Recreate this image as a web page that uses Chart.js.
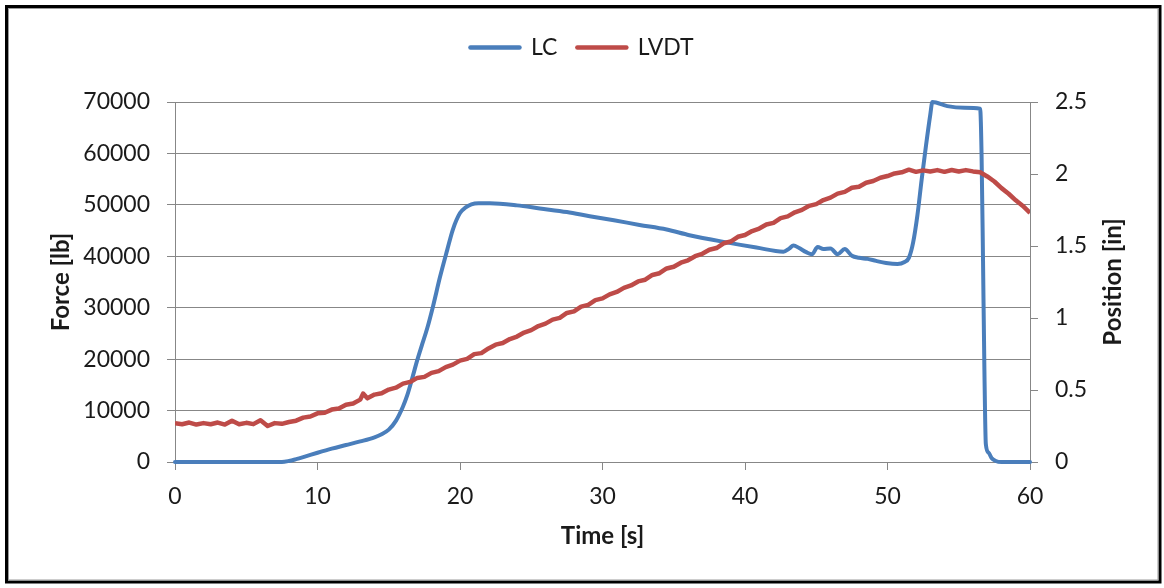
<!DOCTYPE html>
<html><head><meta charset="utf-8">
<script src="https://cdn.jsdelivr.net/npm/chart.js@4/dist/chart.umd.min.js"></script>
<style>html,body{margin:0;padding:0;background:#fff;}canvas{display:block;}</style>
</head><body>
<canvas id="c" width="1164" height="588"></canvas>
<script>
const seriesNames = ['LC', 'LVDT'];
const xTitle = 'Time [s]';
const yTitle = 'Force [lb]';
const y2Title = 'Position [in]';

const lcTime = [0, 7.5, 8, 8.5, 9, 10, 11, 12, 13, 14, 14.5, 15, 15.5, 16, 16.3, 16.6, 17, 17.3, 17.7, 18.1, 18.6, 19.1, 19.5, 20, 20.4, 20.8, 21.3, 22.1, 24, 25.6, 27.5, 29.1, 30.8, 32.6, 34.5, 36.1, 38.5, 40.8, 42.7, 43.1, 43.4, 43.8, 44.3, 44.7, 45.1, 45.5, 46, 46.5, 47, 47.5, 48, 48.6, 49.2, 49.9, 50.7, 51.2, 51.5, 51.8, 52.1, 52.4, 52.7, 53, 53.15, 54.2, 55.4, 56.5, 56.6, 56.7, 56.8, 56.9, 57.1, 57.3, 57.6, 58, 60];
const lcForce = [0, 0, 200, 550, 950, 1800, 2600, 3300, 4000, 4800, 5400, 6300, 8000, 10800, 13000, 15800, 19800, 22500, 26000, 30200, 36000, 41200, 45200, 48400, 49500, 50100, 50300, 50300, 49900, 49300, 48600, 47800, 47000, 46100, 45200, 44100, 42800, 41700, 40900, 41500, 42100, 41600, 40800, 40400, 41800, 41400, 41500, 40400, 41400, 40100, 39700, 39500, 39100, 38700, 38500, 38900, 39700, 42700, 48000, 55000, 61500, 67500, 70000, 69200, 68900, 68700, 60000, 40000, 18000, 3500, 1800, 800, 200, 0, 0];

const lvdtTime = [0, 0.5, 1, 1.5, 2, 2.5, 3, 3.5, 4, 4.5, 5, 5.5, 6, 6.5, 7, 7.5, 8, 8.5, 9, 9.5, 10, 10.5, 11, 11.5, 12, 12.5, 13, 13.2, 13.5, 14, 14.5, 15, 15.5, 16, 16.5, 17, 17.5, 18, 18.5, 19, 19.5, 20, 20.5, 21, 21.5, 22, 22.5, 23, 23.5, 24, 24.5, 25, 25.5, 26, 26.5, 27, 27.5, 28, 28.5, 29, 29.5, 30, 30.5, 31, 31.5, 32, 32.5, 33, 33.5, 34, 34.5, 35, 35.5, 36, 36.5, 37, 37.5, 38, 38.5, 39, 39.5, 40, 40.5, 41, 41.5, 42, 42.5, 43, 43.5, 44, 44.5, 45, 45.5, 46, 46.5, 47, 47.5, 48, 48.5, 49, 49.5, 50, 50.5, 51, 51.5, 52, 52.5, 53, 53.5, 54, 54.5, 55, 55.5, 56, 56.5, 57, 57.5, 58, 58.5, 59, 59.5, 60];
const lvdtPos = [0.27, 0.262, 0.274, 0.26, 0.27, 0.262, 0.274, 0.26, 0.287, 0.262, 0.272, 0.263, 0.29, 0.25, 0.27, 0.265, 0.278, 0.287, 0.308, 0.316, 0.338, 0.342, 0.364, 0.372, 0.398, 0.406, 0.433, 0.475, 0.442, 0.468, 0.477, 0.503, 0.516, 0.544, 0.556, 0.584, 0.591, 0.619, 0.631, 0.659, 0.676, 0.704, 0.716, 0.749, 0.756, 0.789, 0.815, 0.826, 0.854, 0.871, 0.899, 0.916, 0.944, 0.961, 0.989, 1.001, 1.035, 1.046, 1.079, 1.091, 1.124, 1.136, 1.164, 1.181, 1.209, 1.226, 1.254, 1.266, 1.299, 1.311, 1.344, 1.356, 1.384, 1.401, 1.429, 1.446, 1.474, 1.486, 1.519, 1.531, 1.564, 1.576, 1.604, 1.621, 1.649, 1.661, 1.694, 1.706, 1.734, 1.751, 1.779, 1.791, 1.819, 1.836, 1.864, 1.876, 1.904, 1.911, 1.939, 1.951, 1.974, 1.986, 2.004, 2.012, 2.03, 2.015, 2.025, 2.017, 2.027, 2.015, 2.028, 2.017, 2.027, 2.018, 2.012, 1.983, 1.948, 1.902, 1.863, 1.817, 1.778, 1.73];

const COLORS = ['#4a7ebb', '#be4b48'];
const GRID = '#878787';
const TXT = '#1a1a1a';

Chart.defaults.font.family = 'Lato';
Chart.defaults.color = TXT;

const framePlugin = {
  id: 'frame',
  beforeLayout(chart) {
    const lg = chart.legend;
    if (lg && !lg._fixedH) {
      const orig = lg.fit.bind(lg);
      lg.fit = function () { orig(); this.height = 86; };
      lg._fixedH = true;
    }
  },
  afterDraw(chart) {
    const ctx = chart.ctx;
    ctx.save();
    ctx.font = 'bold 24px Lato';
    ctx.fillStyle = TXT;
    ctx.textAlign = 'center';
    ctx.textBaseline = 'middle';
    ctx.translate(1113, (chart.chartArea.top + chart.chartArea.bottom) / 2);
    ctx.rotate(-Math.PI / 2);
    ctx.fillText(y2Title, 0, 0);
    ctx.restore();
    ctx.save();
    ctx.strokeStyle = '#000';
    ctx.lineWidth = 3;
    ctx.strokeRect(6.5, 6.5, 1153.5, 575.5);
    ctx.strokeStyle = '#9a9a9a';
    ctx.lineWidth = 1;
    ctx.strokeRect(8.5, 8.5, 1149.5, 571.5);
    ctx.restore();
  }
};

new Chart(document.getElementById('c'), {
  type: 'line',
  data: {
    datasets: [
      {
        label: seriesNames[0],
        data: lcTime.map((t, i) => ({x: t, y: lcForce[i]})),
        yAxisID: 'y',
        borderColor: COLORS[0],
        backgroundColor: COLORS[0],
        borderWidth: 4,
        pointRadius: 0,
        cubicInterpolationMode: 'monotone',
        borderCapStyle: 'round',
        borderJoinStyle: 'round',
        clip: false,
        order: 1
      },
      {
        label: seriesNames[1],
        data: lvdtTime.map((t, i) => ({x: t, y: lvdtPos[i]})),
        yAxisID: 'y1',
        borderColor: COLORS[1],
        backgroundColor: COLORS[1],
        borderWidth: 4.5,
        pointRadius: 0,
        tension: 0,
        borderJoinStyle: 'round',
        order: 0
      }
    ]
  },
  options: {
    responsive: false,
    devicePixelRatio: 1,
    animation: false,
    events: [],
    layout: {padding: {top: 16, left: 0, right: 0, bottom: 0}},
    plugins: {
      tooltip: {enabled: false},
      legend: {
        position: 'top',
        labels: {
          font: {family: 'Lato', size: 23},
          color: TXT,
          usePointStyle: true,
          pointStyleWidth: 49,
          boxHeight: 4,
          padding: 20,
          generateLabels: chart => chart.data.datasets.map((ds, i) => ({
            text: ds.label, fillStyle: ds.borderColor, strokeStyle: ds.borderColor,
            lineWidth: 4.5, lineCap: 'round', pointStyle: 'line', hidden: false,
            datasetIndex: i, fontColor: TXT
          }))
        }
      }
    },
    scales: {
      x: {
        type: 'linear', min: 0, max: 60,
        afterFit(s) { s.height = 126; },
        ticks: {stepSize: 10, padding: 13, font: {size: 23}, color: TXT, maxRotation: 0},
        grid: {drawOnChartArea: false, drawTicks: true, tickLength: 8, color: GRID},
        border: {display: true, color: GRID},
        title: {display: true, text: xTitle, font: {size: 24, weight: 'bold'}, color: TXT, padding: {top: 0, bottom: 37}}
      },
      y: {
        type: 'linear', position: 'left', min: 0, max: 70000,
        afterFit(s) { s.width = 175; },
        ticks: {stepSize: 10000, padding: 17, font: {size: 23}, color: TXT, callback: v => String(v)},
        grid: {color: GRID, tickLength: 8, drawTicks: true},
        border: {display: true, color: GRID},
        title: {display: true, text: yTitle, font: {size: 24, weight: 'bold'}, color: TXT, padding: {top: 47, bottom: 0}}
      },
      y1: {
        type: 'linear', position: 'right', min: 0, max: 2.5,
        afterFit(s) { s.width = 134; },
        ticks: {stepSize: 0.5, padding: 17, font: {size: 23}, color: TXT, callback: v => String(v)},
        grid: {drawOnChartArea: false, drawTicks: true, tickLength: 8, color: GRID},
        border: {display: true, color: GRID}
      }
    }
  },
  plugins: [framePlugin]
});
</script>
</body></html>
